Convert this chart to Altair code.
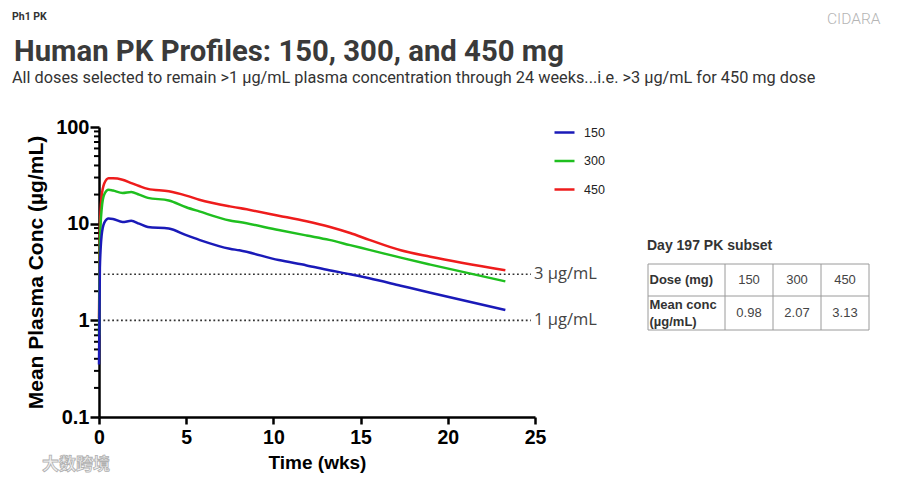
import altair as alt
import pandas as pd

# ---------------- data ----------------
T = [0, 0.05, 0.15, 0.3, 0.55, 0.8, 1.35, 1.85, 2.3, 2.8, 4.0, 5.0, 5.75,
     7.5, 8.05, 10.3, 11.9, 13.2, 14.4, 15.5, 17.3, 19.0, 23.3]
C150 = [0.35, 3.5, 7.5, 10.2, 11.3, 11.2, 10.4, 10.7, 10.0, 9.25, 8.9, 7.6, 6.8,
        5.5, 5.3, 4.2, 3.7, 3.3, 3.0, 2.72, 2.28, 1.93, 1.28]
C300 = [0.7, 6.0, 14.0, 20.0, 22.4, 22.0, 20.8, 21.3, 20.0, 18.5, 17.4, 14.8, 13.4,
        10.8, 10.4, 8.6, 7.55, 6.8, 6.0, 5.36, 4.45, 3.77, 2.53]
C450 = [1.05, 9.0, 19.0, 26.0, 29.5, 29.5, 28.5, 26.3, 24.5, 22.9, 21.6, 19.5, 17.7,
        15.1, 14.5, 12.1, 10.6, 9.3, 8.0, 6.8, 5.3, 4.54, 3.29]
DOSES = ["150", "300", "450"]
COLORS = ["#1a1ab8", "#1fbf1f", "#ee1c1c"]

REF_VALUES = [3, 1]
REF_LABELS = ["3 µg/mL", "1 µg/mL"]

X_TICKS = [0, 5, 10, 15, 20, 25]
Y_TICKS = [0.1, 1, 10, 100]
MINOR_TICKS = [0.2, 0.3, 0.4, 0.5, 0.6, 0.7, 0.8, 0.9,
               2, 3, 4, 5, 6, 7, 8, 9,
               20, 30, 40, 50, 60, 70, 80, 90]

HEADER_SMALL = "Ph1 PK"
BRAND = "CIDARA"
TITLE = "Human PK Profiles: 150, 300, and 450 mg"
SUBTITLE = ("All doses selected to remain >1 µg/mL plasma concentration through "
            "24 weeks...i.e. >3 µg/mL for 450 mg dose")
WATERMARK = "大数跨境"

TABLE_TITLE = "Day 197 PK subset"
TABLE_ROWS = [["Dose (mg)", "150", "300", "450"],
              ["Mean conc\n(µg/mL)", "0.98", "2.07", "3.13"]]

# ---------------- style ----------------
W, H = 436, 290
AXIS_FONT = "Liberation Sans"
COL_W = [77, 48, 48, 48]
ROW_H = [32, 34]
LINE_H = 17

# ---------------- frames ----------------
series = []
for dose, vals in zip(DOSES, [C150, C300, C450]):
    for t, c in zip(T, vals):
        series.append({"t": t, "c": c, "dose": dose})
df = pd.DataFrame(series)

x_enc = alt.X("t:Q", scale=alt.Scale(domain=[0, 25], nice=False),
              axis=alt.Axis(values=X_TICKS, title="Time (wks)", tickSize=7,
                            labelPadding=4, titlePadding=7, labelFlush=False,
                            labelFontSize=19.5, titleFontSize=19))
y_enc = alt.Y("c:Q", scale=alt.Scale(type="log", domain=[0.1, 100], nice=False),
              axis=alt.Axis(values=Y_TICKS, format="~g",
                            title="Mean Plasma Conc (µg/mL)", tickSize=9,
                            labelPadding=1, titlePadding=9, labelFlush=False,
                            labelFontSize=20, titleFontSize=21))
color_enc = alt.Color(
    "dose:N", scale=alt.Scale(domain=DOSES, range=COLORS),
    legend=alt.Legend(orient="none", legendX=454, legendY=-6, title=None,
                      symbolType="stroke", symbolSize=400,
                      symbolStrokeWidth=2.5, labelFontSize=12.5,
                      labelFont=AXIS_FONT, labelColor="#222", rowPadding=10.5,
                      labelOffset=8, padding=0))

# draw 450 first, 150 last so the 150 curve sits on top near the axis
line_layers = [
    alt.Chart(df).transform_filter(alt.datum.dose == d)
    .mark_line(strokeWidth=2.5, interpolate="monotone")
    .encode(x=x_enc, y=y_enc, color=color_enc)
    for d in reversed(DOSES)
]

ref_df = pd.DataFrame({"c": REF_VALUES, "label": REF_LABELS})
ref_rules = alt.Chart(ref_df).mark_rule(
    strokeDash=[1.8, 2.6], color="#333", strokeWidth=1.6
).encode(y="c:Q", x=alt.value(0), x2=alt.value(432))
ref_text = alt.Chart(ref_df).mark_text(
    align="left", baseline="middle", font="Open Sans", fontSize=16.5,
    color="#444"
).encode(y="c:Q", x=alt.value(435), text="label:N")

minor = alt.Chart(pd.DataFrame({"c": MINOR_TICKS})).mark_rule(
    strokeWidth=2, color="black"
).encode(y="c:Q", x=alt.value(-5), x2=alt.value(0))


def label(text, x, y, **kw):
    return alt.Chart(pd.DataFrame({"s": [text]})).mark_text(**kw).encode(
        x=alt.value(x), y=alt.value(y), text="s:N")


texts = [
    label(HEADER_SMALL, -87, -110, align="left", baseline="middle",
          font="Roboto", fontSize=10.5, fontWeight="bold", color="#333"),
    label(BRAND, 728, -108, align="left", baseline="middle",
          font="Roboto", fontSize=15.5, fontWeight=300, color="#b5b5b5"),
    label(TITLE, -85, -66, align="left", baseline="alphabetic",
          font="Roboto", fontSize=29.3, fontWeight="bold", color="#3a3a3a"),
    label(SUBTITLE, -87, -44, align="left", baseline="alphabetic",
          font="Roboto", fontSize=16.3, color="#333"),
    label(WATERMARK, -57, 338, align="left", baseline="middle",
          font="Noto Sans CJK SC", fontSize=17, fontWeight="bold",
          color="#f2f2f2", stroke="#b0b0b0", strokeWidth=0.8),
    label(TABLE_TITLE, 548, 119, align="left", baseline="middle",
          font=AXIS_FONT, fontSize=14, fontWeight="bold", color="#333"),
]

main = alt.layer(minor, ref_rules, ref_text, *line_layers, *texts)

# ---------------- table ----------------
x_edges = [0]
for w in COL_W:
    x_edges.append(x_edges[-1] + w)
y_edges = [0]
for h in ROW_H:
    y_edges.append(y_edges[-1] + h)
TW, TH = x_edges[-1], y_edges[-1]

grid = []
for xe in x_edges:
    grid.append({"x": xe, "x2": xe, "y": 0, "y2": TH})
for ye in y_edges:
    grid.append({"x": 0, "x2": TW, "y": ye, "y2": ye})
grid_df = pd.DataFrame(grid)

cells_head, cells_val = [], []
for r, row in enumerate(TABLE_ROWS):
    cy = (y_edges[r] + y_edges[r + 1]) / 2
    for ci, txt in enumerate(row):
        if ci == 0:
            n = txt.count("\n")
            cells_head.append({"x": x_edges[0] + 1.5,
                               "y": cy - n * LINE_H / 2, "s": txt})
        else:
            cells_val.append({"x": (x_edges[ci] + x_edges[ci + 1]) / 2,
                              "y": cy, "s": txt})

tx = alt.Scale(domain=[0, TW], range=[549, 549 + TW])
ty = alt.Scale(domain=[0, TH], range=[137, 137 + TH])

t_grid = alt.Chart(grid_df).mark_rule(color="#9a9a9a", strokeWidth=1).encode(
    x=alt.X("x:Q", scale=tx, axis=None), x2="x2:Q",
    y=alt.Y("y:Q", scale=ty, axis=None), y2="y2:Q")
t_head = alt.Chart(pd.DataFrame(cells_head)).mark_text(
    align="left", baseline="middle", font=AXIS_FONT, fontSize=13,
    fontWeight="bold", color="#333", lineBreak="\n", lineHeight=LINE_H
).encode(x=alt.X("x:Q", scale=tx, axis=None),
         y=alt.Y("y:Q", scale=ty, axis=None), text="s:N")
t_val = alt.Chart(pd.DataFrame(cells_val)).mark_text(
    align="center", baseline="middle", font=AXIS_FONT, fontSize=13,
    color="#444"
).encode(x=alt.X("x:Q", scale=tx, axis=None),
         y=alt.Y("y:Q", scale=ty, axis=None), text="s:N")

table = alt.layer(t_grid, t_head, t_val)

chart = alt.layer(main, table).resolve_scale(
    x="independent", y="independent"
).properties(
    width=W, height=H,
    autosize=alt.AutoSizeParams(type="none"),
    padding={"left": 91, "top": 119, "right": 354, "bottom": 57},
    background="white",
).configure_view(stroke=None).configure_axis(
    grid=False, domainColor="black", domainWidth=2.5, tickColor="black",
    tickWidth=2.5, labelFont=AXIS_FONT,
    labelFontWeight="bold", labelColor="black", titleFont=AXIS_FONT,
    titleFontWeight="bold", titleColor="black",
)

chart.save("out.html", embed_options={"renderer": "svg", "actions": False})
